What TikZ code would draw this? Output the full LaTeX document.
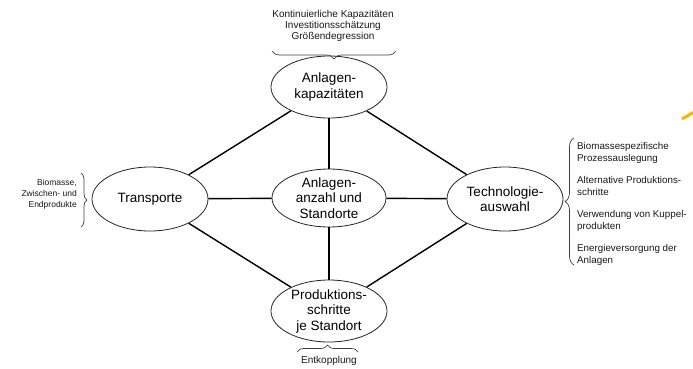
\documentclass[tikz,border=0pt]{standalone}
\usepackage{fontspec}
\setmainfont{Liberation Sans}
\usetikzlibrary{shapes.geometric,decorations.pathreplacing}
\definecolor{accent}{HTML}{F7B500}
\begin{document}
\begin{tikzpicture}[x=1pt,y=-1pt,
 ell/.style={draw=black!85, line width=0.8pt, ellipse, minimum width=116pt, minimum height=62pt, inner sep=0pt, align=center, font=\fontsize{13.5}{15.5}\selectfont},
 conn/.style={line width=1.4pt, black},
 note/.style={font=\fontsize{10}{11}\selectfont, inner sep=0pt, text=black!90},
 br/.style={decorate, decoration={brace, amplitude=#1}, line width=0.7pt, black!75}]
\useasboundingbox (0,0) rectangle (693,368);
\fill[white] (0,0) rectangle (693,368);
% ellipses
\node[ell] (top) at (329,87) {Anlagen-\\kapazitäten};
\node[ell, minimum width=114pt, minimum height=58pt] (mid) at (329,198) {Anlagen-\\anzahl und\\Standorte};
\node[ell, minimum height=64pt] (left) at (150,199) {Transporte};
\node[ell, minimum height=64pt] (right) at (505,199) {Technologie-\\auswahl};
\node[ell] (bot) at (329,311) {Produktions-\\schritte\\je Standort};
% connectors
\draw[conn] (top) -- (left);
\draw[conn] (top) -- (right);
\draw[conn] (bot) -- (left);
\draw[conn] (bot) -- (right);
\draw[conn] (top) -- (mid);
\draw[conn] (mid) -- (bot);
\draw[conn] (left) -- (mid);
\draw[conn] (mid) -- (right);
% annotations
\node[note, align=center] (ttop) at (333,26) {Kontinuierliche Kapazitäten\\Investitionsschätzung\\Größendegression};
\node[note, align=right, anchor=east, font=\fontsize{8.5}{11}\selectfont] (tleft) at (77,194) {Biomasse,\\Zwischen- und\\Endprodukte};
\node[note, align=left, anchor=west, font=\fontsize{9.8}{12}\selectfont] (tright) at (577,204) {Biomassespezifische\\Prozessauslegung\\[10pt]Alternative Produktions-\\schritte\\[10pt]Verwendung von Kuppel-\\produkten\\[10pt]Energieversorgung der\\Anlagen};
\node[note] (tbot) at (329,361) {Entkopplung};
% braces
\coordinate (b1a) at (396,51); \coordinate (b1b) at (272,51);
\draw[br=8pt] (b1a) -- (b1b);
\coordinate (b2a) at (297,352); \coordinate (b2b) at (358,352);
\draw[br=7pt] (b2a) -- (b2b);
\coordinate (b3a) at (81,173); \coordinate (b3b) at (81,227);
\draw[br=6pt] (b3a) -- (b3b);
\coordinate (b4a) at (574,265); \coordinate (b4b) at (574,138);
\draw[br=9pt] (b4a) -- (b4b);
% accent stroke
\coordinate (o1) at (682,119); \coordinate (o2) at (696,111);
\draw[accent, line width=3pt] (o1) -- (o2);
\end{tikzpicture}
\end{document}
